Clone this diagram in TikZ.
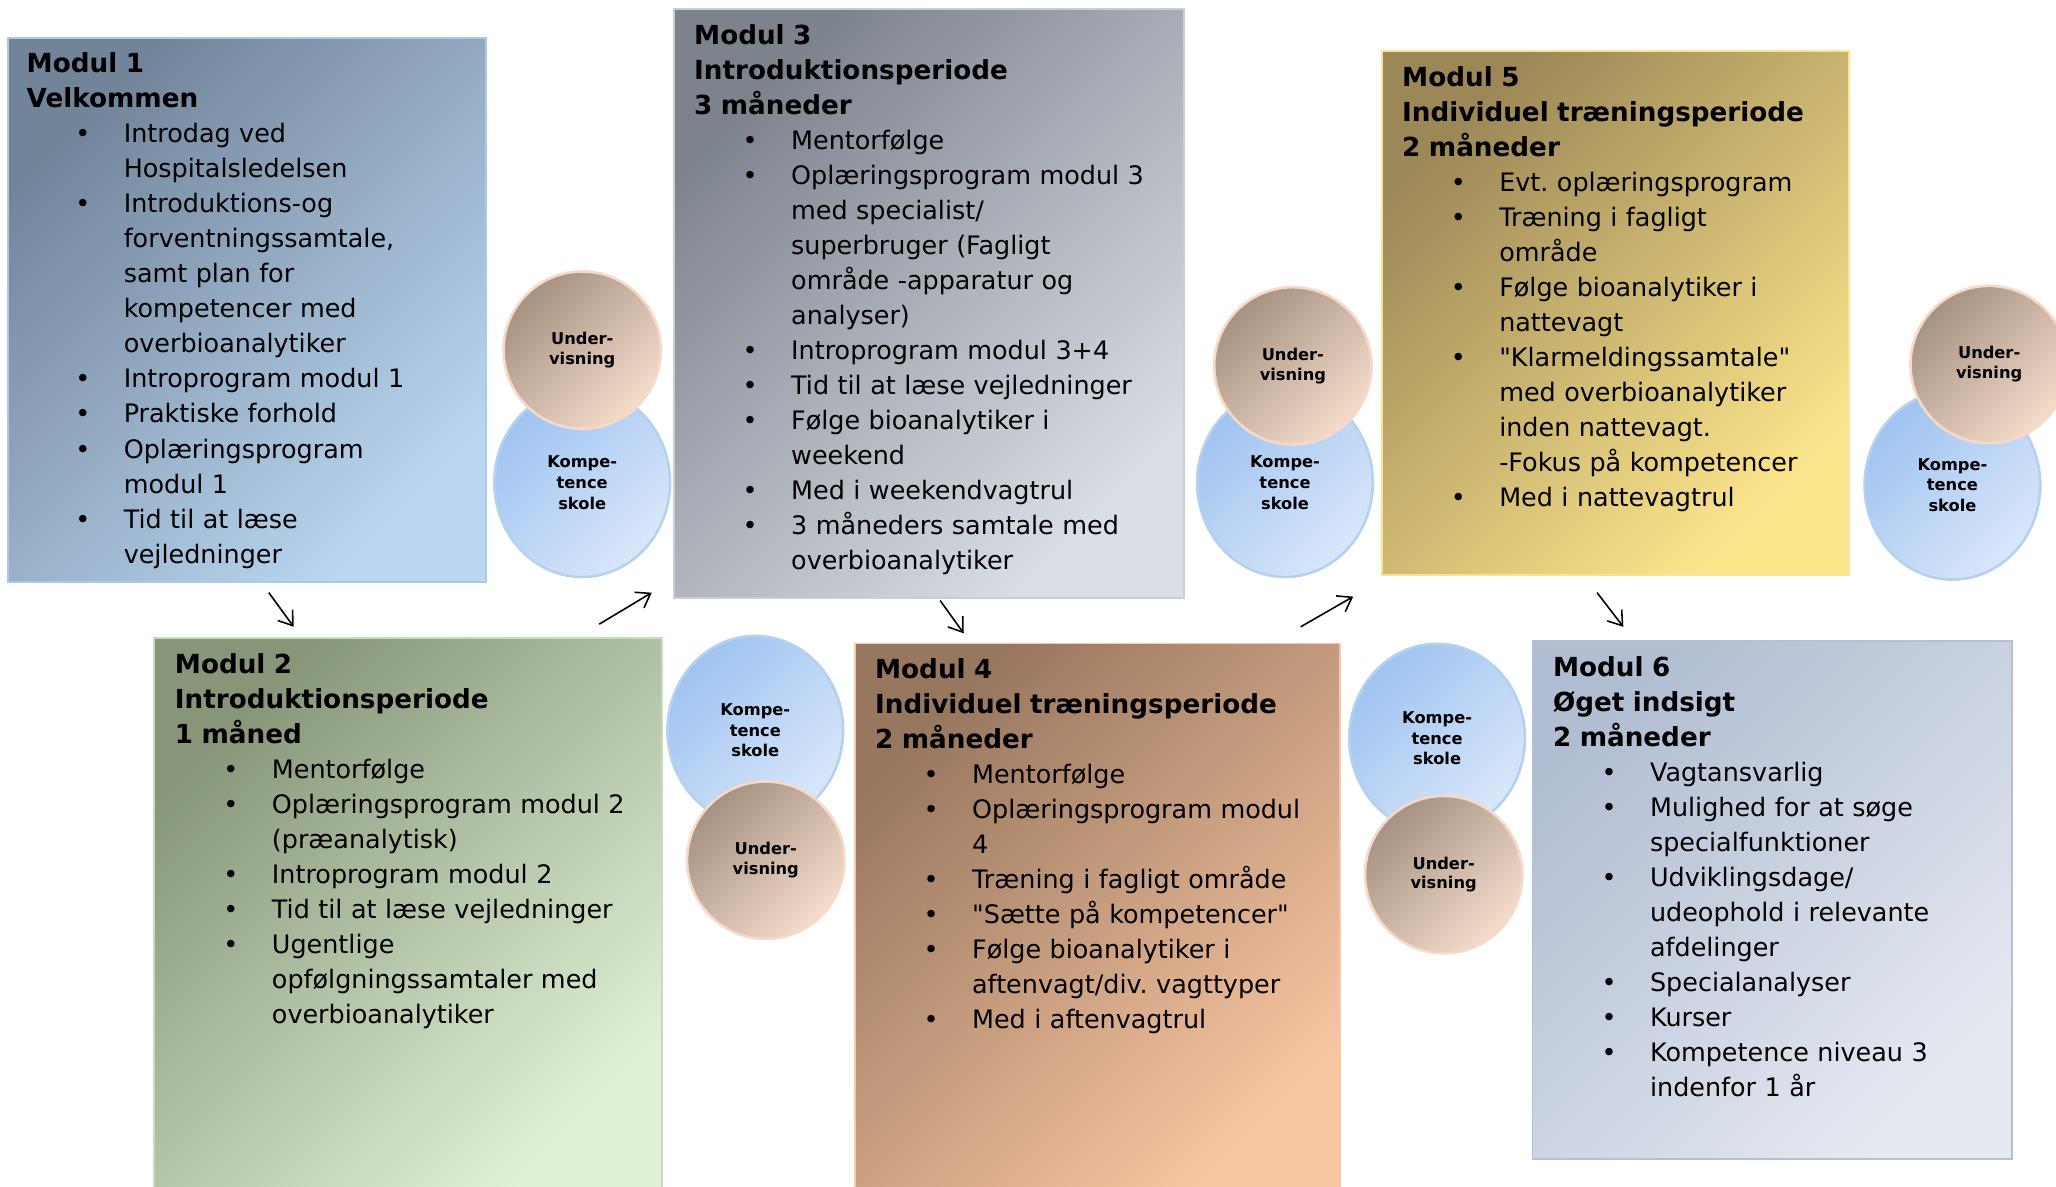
\documentclass[tikz,border=0pt]{standalone}
\usepackage{fontspec}
\setmainfont{DejaVu Sans}
\usetikzlibrary{positioning,shapes.geometric,arrows.meta}

\definecolor{m1a}{HTML}{72849A}\definecolor{m1b}{HTML}{BAD6F0}\definecolor{m1c}{HTML}{A9C9E8}
\definecolor{m2a}{HTML}{879679}\definecolor{m2b}{HTML}{E1F1D6}\definecolor{m2c}{HTML}{C6DCBC}
\definecolor{m3a}{HTML}{7D838D}\definecolor{m3b}{HTML}{DADEE6}\definecolor{m3c}{HTML}{C9CDD5}
\definecolor{m4a}{HTML}{98775F}\definecolor{m4b}{HTML}{F9C6A2}\definecolor{m4c}{HTML}{F4C8AC}
\definecolor{m5a}{HTML}{9C8757}\definecolor{m5b}{HTML}{FCE68C}\definecolor{m5c}{HTML}{F8E498}
\definecolor{m6a}{HTML}{B1BDD2}\definecolor{m6b}{HTML}{E5E9F1}\definecolor{m6c}{HTML}{B4C0D4}
\definecolor{ua}{HTML}{A69282}\definecolor{ub}{HTML}{F5DCCB}\definecolor{uc}{HTML}{F6D9C8}
\definecolor{ka}{HTML}{9FC3F1}\definecolor{kb}{HTML}{D9E7F9}\definecolor{kc}{HTML}{B5D1EE}

\frenchspacing
\newcommand{\titel}[1]{{\fontsize{10}{13.35}\selectfont\bfseries #1\par}}
\newcommand{\pkt}[1]{\par\noindent\hangindent=37pt\hangafter=1\hbox to 37pt{\hskip 18.5pt\textbullet\hfill}#1\par}
\newcommand{\qq}{\textquotedbl}

\tikzset{%
  modul/.style n args={3}{draw=#3, line width=0.75pt, inner sep=0pt, anchor=north west,
    top color=#1, bottom color=#2, shading angle=45},
  tekst/.style={anchor=north west, inner sep=0pt, text width=#1, align=left,
    font=\fontsize{9.7}{13.35}\selectfont},
  under/.style={circle, minimum size=60pt, inner sep=0pt, draw=uc, line width=1pt,
    top color=ua, bottom color=ub, shading angle=45, align=center,
    font=\fontsize{6.2}{7.6}\selectfont\bfseries},
  kompe/.style={ellipse, minimum width=67pt, minimum height=72pt, inner sep=0pt, draw=kc, line width=1pt,
    top color=ka, bottom color=kb, shading angle=45, align=center,
    font=\fontsize{6.2}{7.9}\selectfont\bfseries},
  pil/.style={draw, line width=0.6pt, -{Straight Barb[length=5pt,width=7pt]}},
}

\begin{document}
\begin{tikzpicture}[x=0.5pt,y=-0.5pt]
\useasboundingbox (0,0) rectangle (1568,905);

% moduler
\node[modul={m1a}{m1b}{m1c}, minimum width=182.5pt, minimum height=207.5pt] (m1) at (5,28) {};
\node[modul={m3a}{m3b}{m3c}, minimum width=194.5pt, minimum height=224.5pt] (m3) at (513,6) {};
\node[modul={m5a}{m5b}{m5c}, minimum width=178pt, minimum height=200pt] (m5) at (1053,38) {};
\node[modul={m2a}{m2b}{m2c}, minimum width=193.5pt, minimum height=215pt] (m2) at (117,486) {};
\node[modul={m4a}{m4b}{m4c}, minimum width=185pt, minimum height=215pt] (m4) at (651,490) {};
\node[modul={m6a}{m6b}{m6c}, minimum width=183pt, minimum height=197.5pt] (m6) at (1168,488) {};

\node[tekst=178pt, below right=6pt and 7.5pt of m1.north west] (t1) {\titel{Modul 1\\Velkommen}
\pkt{Introdag ved\newline Hospitalsledelsen}
\pkt{Introduktions-og\newline forventningssamtale,\newline samt plan for\newline kompetencer med\newline overbioanalytiker}
\pkt{Introprogram modul 1}
\pkt{Praktiske forhold}
\pkt{Oplæringsprogram\newline modul 1}
\pkt{Tid til at læse\newline vejledninger}};

\node[tekst=190pt, below right=6pt and 8pt of m3.north west] (t3) {\titel{Modul 3\\Introduktionsperiode\\3 måneder}
\pkt{Mentorfølge}
\pkt{Oplæringsprogram modul 3\newline med specialist/\newline superbruger (Fagligt\newline område -apparatur og\newline analyser)}
\pkt{Introprogram modul 3+4}
\pkt{Tid til at læse vejledninger}
\pkt{Følge bioanalytiker i\newline weekend}
\pkt{Med i weekendvagtrul}
\pkt{3 måneders samtale med\newline overbioanalytiker}};

\node[tekst=175pt, below right=6pt and 8pt of m5.north west] (t5) {\titel{Modul 5\\Individuel træningsperiode\\2 måneder}
\pkt{Evt. oplæringsprogram}
\pkt{Træning i fagligt\newline område}
\pkt{Følge bioanalytiker i\newline nattevagt}
\pkt{\qq Klarmeldingssamtale\qq\newline med overbioanalytiker\newline inden nattevagt.\newline -Fokus på kompetencer}
\pkt{Med i nattevagtrul}};

\node[tekst=190pt, below right=6pt and 8pt of m2.north west] (t2) {\titel{Modul 2\\Introduktionsperiode\\1 måned}
\pkt{Mentorfølge}
\pkt{Oplæringsprogram modul 2\newline (præanalytisk)}
\pkt{Introprogram modul 2}
\pkt{Tid til at læse vejledninger}
\pkt{Ugentlige\newline opfølgningssamtaler med\newline overbioanalytiker}};

\node[tekst=180pt, below right=6pt and 8pt of m4.north west] (t4) {\titel{Modul 4\\Individuel træningsperiode\\2 måneder}
\pkt{Mentorfølge}
\pkt{Oplæringsprogram modul\newline 4}
\pkt{Træning i fagligt område}
\pkt{\qq Sætte på kompetencer\qq}
\pkt{Følge bioanalytiker i\newline aftenvagt/div. vagttyper}
\pkt{Med i aftenvagtrul}};

\node[tekst=178pt, below right=6pt and 8pt of m6.north west] (t6) {\titel{Modul 6\\Øget indsigt\\2 måneder}
\pkt{Vagtansvarlig}
\pkt{Mulighed for at søge\newline specialfunktioner}
\pkt{Udviklingsdage/\newline udeophold i relevante\newline afdelinger}
\pkt{Specialanalyser}
\pkt{Kurser}
\pkt{Kompetence niveau 3\newline indenfor 1 år}};

% kompetenceskole og undervisning
\node[kompe] (k1) at (444,368) {Kompe-\\tence\\skole};
\node[under] (u1) at (444,267) {Under-\\visning};
\node[kompe] (k2) at (576,557) {Kompe-\\tence\\skole};
\node[under] (u2) at (584,656) {Under-\\visning};
\node[kompe] (k3) at (980,368) {Kompe-\\tence\\skole};
\node[under] (u3) at (986,279) {Under-\\visning};
\node[kompe] (k4) at (1096,563) {Kompe-\\tence\\skole};
\node[under] (u4) at (1101,667) {Under-\\visning};
\node[kompe] (k5) at (1489,370) {Kompe-\\tence\\skole};
\node[under] (u5) at (1517,278) {Under-\\visning};

% pile
\coordinate (p1a) at (205,452); \coordinate (p1b) at (224,478);
\coordinate (p2a) at (457,476); \coordinate (p2b) at (497,452);
\coordinate (p3a) at (717,458); \coordinate (p3b) at (735,483);
\coordinate (p4a) at (992,478); \coordinate (p4b) at (1032,455);
\coordinate (p5a) at (1218,452); \coordinate (p5b) at (1238,478);
\draw[pil] (p1a) -- (p1b);
\draw[pil] (p2a) -- (p2b);
\draw[pil] (p3a) -- (p3b);
\draw[pil] (p4a) -- (p4b);
\draw[pil] (p5a) -- (p5b);
\end{tikzpicture}
\end{document}
